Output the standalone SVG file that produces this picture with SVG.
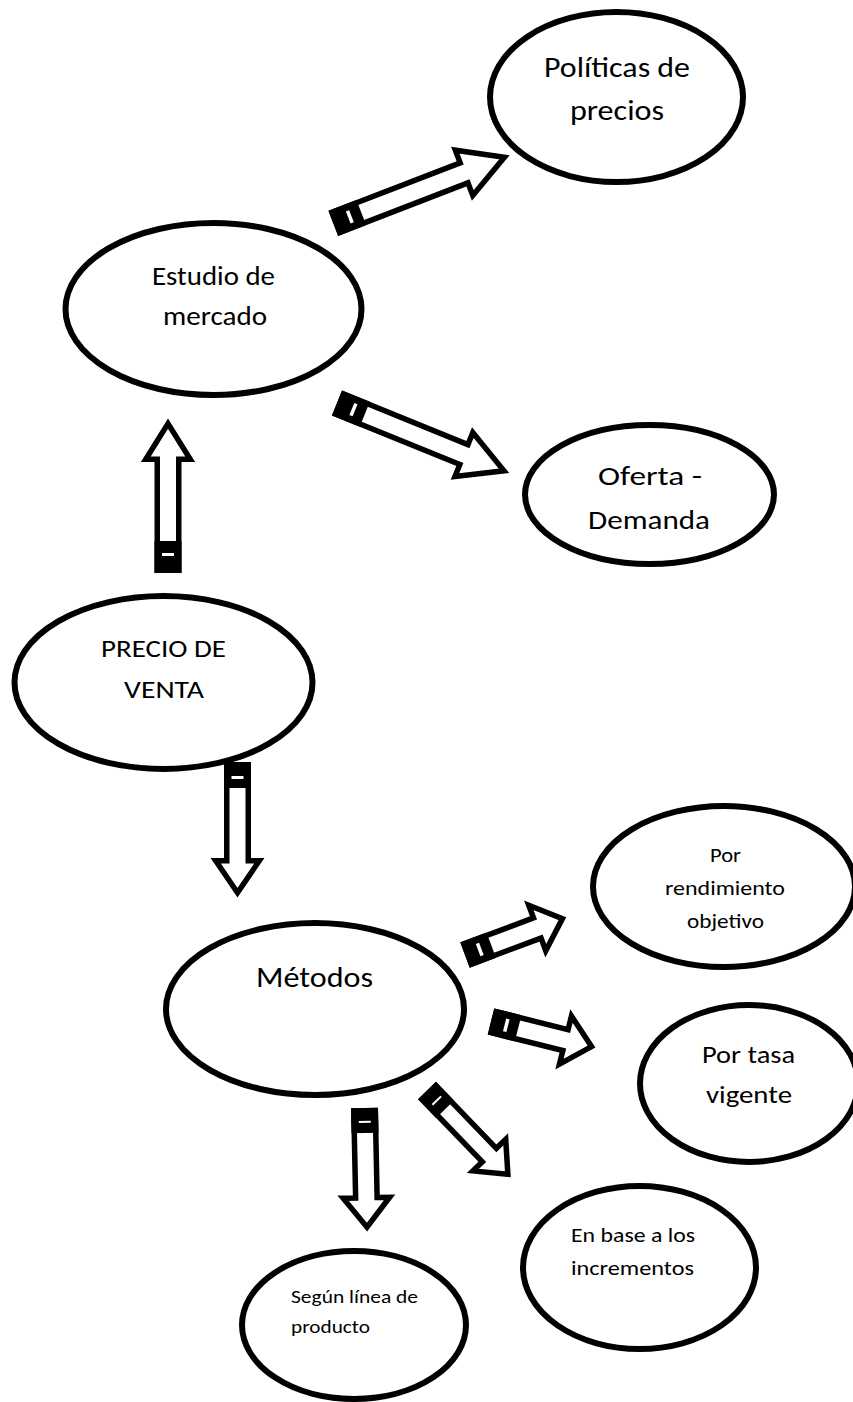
<svg xmlns="http://www.w3.org/2000/svg" width="853" height="1402" viewBox="0 0 853 1402">
<style>
.n ellipse{fill:#fff;stroke:#000;stroke-width:6}
.t{font-family:Carlito,Lato,"Open Sans",sans-serif;fill:#000;lengthAdjust:spacingAndGlyphs}
.arr{fill:#fff;stroke:#000;stroke-width:5.5;stroke-linejoin:miter}
.tail{fill:#000}
.slit{fill:#fff}
</style>
<rect width="853" height="1402" fill="#fff"/>
<g id="n-politicas" class="n">
<ellipse cx="616.5" cy="97" rx="126.5" ry="85"/>
<text class="t" x="617" y="77" font-size="28" text-anchor="middle" textLength="146" lengthAdjust="spacingAndGlyphs">Políticas de</text>
<text class="t" x="617" y="120" font-size="28" text-anchor="middle" textLength="94" lengthAdjust="spacingAndGlyphs">precios</text>
</g>
<g id="n-estudio" class="n">
<ellipse cx="213.5" cy="309" rx="148" ry="86"/>
<text class="t" x="213.5" y="285" font-size="26" text-anchor="middle" textLength="123" lengthAdjust="spacingAndGlyphs">Estudio de</text>
<text class="t" x="215" y="325" font-size="26" text-anchor="middle" textLength="104" lengthAdjust="spacingAndGlyphs">mercado</text>
</g>
<g id="n-oferta" class="n">
<ellipse cx="649.5" cy="494.5" rx="124.5" ry="69.5"/>
<text class="t" x="650" y="485" font-size="27" text-anchor="middle" textLength="104" lengthAdjust="spacingAndGlyphs">Oferta -</text>
<text class="t" x="649" y="529" font-size="27" text-anchor="middle" textLength="122" lengthAdjust="spacingAndGlyphs">Demanda</text>
</g>
<g id="n-precio" class="n">
<ellipse cx="163.5" cy="682.5" rx="149" ry="86.5"/>
<text class="t" x="163.5" y="657" font-size="25" text-anchor="middle" textLength="125" lengthAdjust="spacingAndGlyphs">PRECIO DE</text>
<text class="t" x="164" y="698" font-size="25" text-anchor="middle" textLength="80" lengthAdjust="spacingAndGlyphs">VENTA</text>
</g>
<g id="n-metodos" class="n">
<ellipse cx="315" cy="1009" rx="149" ry="86"/>
<text class="t" x="314.5" y="987" font-size="29" text-anchor="middle" textLength="117" lengthAdjust="spacingAndGlyphs">Métodos</text>
</g>
<g id="n-rendimiento" class="n">
<ellipse cx="724" cy="886.5" rx="131" ry="80.5"/>
<text class="t" x="725.5" y="862" font-size="20.5" text-anchor="middle" textLength="31" lengthAdjust="spacingAndGlyphs">Por</text>
<text class="t" x="725" y="895" font-size="20.5" text-anchor="middle" textLength="120" lengthAdjust="spacingAndGlyphs">rendimiento</text>
<text class="t" x="725.5" y="928" font-size="20.5" text-anchor="middle" textLength="77" lengthAdjust="spacingAndGlyphs">objetivo</text>
</g>
<g id="n-tasa" class="n">
<ellipse cx="749" cy="1083.5" rx="109" ry="78.5"/>
<text class="t" x="748.5" y="1063" font-size="25" text-anchor="middle" textLength="93" lengthAdjust="spacingAndGlyphs">Por tasa</text>
<text class="t" x="749" y="1103" font-size="25" text-anchor="middle" textLength="86" lengthAdjust="spacingAndGlyphs">vigente</text>
</g>
<g id="n-incrementos" class="n">
<ellipse cx="639.5" cy="1267.5" rx="116.5" ry="81.5"/>
<text class="t" x="571" y="1242" font-size="20.5" textLength="124" lengthAdjust="spacingAndGlyphs">En base a los</text>
<text class="t" x="571" y="1275" font-size="20.5" textLength="123" lengthAdjust="spacingAndGlyphs">incrementos</text>
</g>
<g id="n-segun" class="n">
<ellipse cx="354" cy="1325" rx="112" ry="74"/>
<text class="t" x="291" y="1303" font-size="19" textLength="127" lengthAdjust="spacingAndGlyphs">Según línea de</text>
<text class="t" x="291" y="1333" font-size="19" textLength="79" lengthAdjust="spacingAndGlyphs">producto</text>
</g>
<g id="connectors">
<g id="a-estudio-politicas" transform="translate(333.3,223.3) rotate(-21.1)">
<path class="arr" d="M2.75,-10.75H140.15V-24.25L183.4,0L140.15,24.25V10.75H2.75Z"/>
<rect class="tail" x="0" y="-13.5" width="30" height="27"/>
<rect class="slit" x="16" y="-6.5" width="3.5" height="13"/>
</g>
<g id="a-estudio-oferta" transform="translate(337,403) rotate(22.1)">
<path class="arr" d="M2.75,-10.75H136.95V-23.75L180.2,0L136.95,23.75V10.75H2.75Z"/>
<rect class="tail" x="0" y="-13.5" width="30" height="27"/>
<rect class="slit" x="16" y="-6.5" width="3.5" height="13"/>
</g>
<g id="a-precio-estudio" transform="translate(168,573) rotate(-90)">
<path class="arr" d="M2.75,-10.75H113.75V-22.25L149.4,0L113.75,22.25V10.75H2.75Z"/>
<rect class="tail" x="0" y="-13.5" width="32" height="27"/>
<rect class="slit" x="17" y="-6" width="3" height="12"/>
</g>
<g id="a-precio-metodos" transform="translate(237.5,762) rotate(90)">
<path class="arr" d="M2.75,-10.75H98.75V-21.75L130.7,0L98.75,21.75V10.75H2.75Z"/>
<rect class="tail" x="0" y="-13.5" width="26" height="27"/>
<rect class="slit" x="14" y="-6" width="3" height="12"/>
</g>
<g id="a-metodos-rendimiento" transform="translate(465,955) rotate(-20.5)">
<path class="arr" d="M2.75,-10.75H77.15V-24.25L104,0L77.15,24.25V10.75H2.75Z"/>
<rect class="tail" x="0" y="-13.5" width="28" height="27"/>
<rect class="slit" x="14" y="-6.5" width="3.5" height="13"/>
</g>
<g id="a-metodos-tasa" transform="translate(491,1021.5) rotate(14)">
<path class="arr" d="M2.75,-10.75H76.75V-24.75L103.6,0L76.75,24.75V10.75H2.75Z"/>
<rect class="tail" x="0" y="-13.5" width="28" height="27"/>
<rect class="slit" x="14" y="-6.5" width="3.5" height="13"/>
</g>
<g id="a-metodos-incrementos" transform="translate(427,1090.5) rotate(46)">
<path class="arr" d="M2.75,-9.75H89.75V-22.75L116.4,0L89.75,22.75V9.75H2.75Z"/>
<rect class="tail" x="0" y="-12.5" width="26" height="25"/>
<rect class="slit" x="13" y="-6" width="2" height="12"/>
</g>
<g id="a-metodos-segun" transform="translate(364.5,1108) rotate(88.8)">
<path class="arr" d="M2.75,-10.75H89.75V-23.25L119.2,0L89.75,23.25V10.75H2.75Z"/>
<rect class="tail" x="0" y="-13.5" width="25" height="27"/>
<rect class="slit" x="13" y="-6" width="2" height="12"/>
</g>
</g>
</svg>
